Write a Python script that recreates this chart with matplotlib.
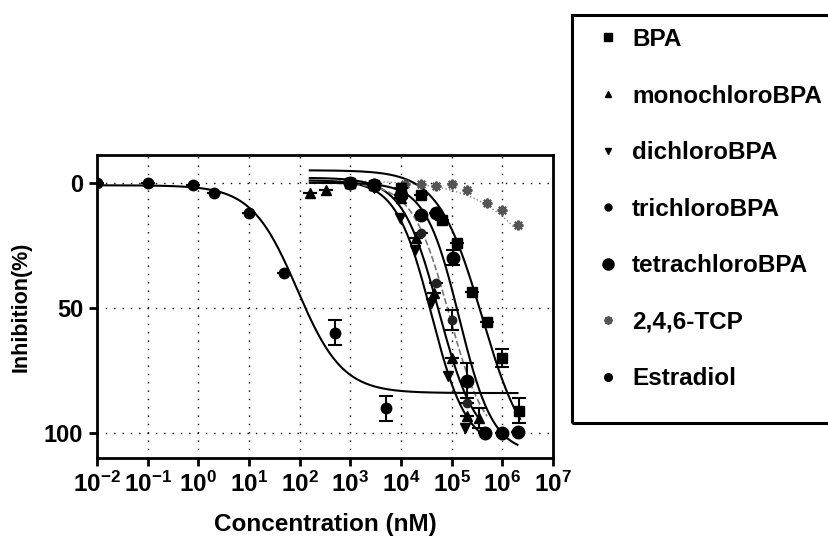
import numpy as np
import matplotlib
matplotlib.use("Agg")
import matplotlib.pyplot as plt
from matplotlib.lines import Line2D
from matplotlib.patches import Rectangle

plt.rcParams['font.family'] = ['Liberation Sans', 'DejaVu Sans']
plt.rcParams['font.weight'] = 'bold'
plt.rcParams['mathtext.fontset'] = 'custom'
plt.rcParams['mathtext.bf'] = 'Liberation Sans:bold'
plt.rcParams['mathtext.rm'] = 'Liberation Sans:bold'

# measured points: concentration (nM), inhibition (%), sem
bpa_x = [1e3, 3e3, 1e4, 2.5e4, 6.6e4, 1.26e5, 2.5e5, 5e5, 1e6, 2.1e6]
bpa_y = [0, 1, 2, 5, 15, 24, 43.6, 55.6, 70, 91]
bpa_e = [0, 0, 0, 0, 0, 0, 0, 0, 3.5, 5]

mono_x = [160, 330, 1e3, 3e3, 1e4, 2e4, 4.5e4, 1e5, 2e5, 3.5e5]
mono_y = [4, 3, 0, 1, 6, 22, 44, 70, 93, 94]
mono_e = [0, 0, 0, 0, 0, 0, 0, 0, 0, 4]

di_x = [1e3, 3e3, 9.5e3, 1.9e4, 3.9e4, 8.3e4, 1.8e5]
di_y = [0, 2, 14, 27, 48, 77, 98]

tri_x = [1e3, 3e3, 1e4, 2.5e4, 5e4, 1e5, 2e5]
tri_y = [0, 1, 5, 20, 40, 55, 88]
tri_e = [0, 0, 0, 0, 0, 4, 0]

tetra_x = [1e3, 3e3, 1e4, 2.5e4, 5e4, 1.05e5, 2e5, 4.5e5, 1e6, 2e6]
tetra_y = [0, 1, 5, 13, 12, 30, 79, 100, 100, 99.6]
tetra_e = [0, 0, 0, 0, 0, 3, 7, 0, 0, 0]

tcp_x = [1e3, 3e3, 1.2e4, 2.5e4, 5e4, 1e5, 2e5, 5e5, 1e6, 2e6]
tcp_y = [0, 0, 0.5, 0.5, 1.2, 0.5, 3, 8, 11, 17]

e2_x = [0.01, 0.1, 0.8, 2, 10, 50, 500, 5000]
e2_y = [0, 0, 0.8, 4, 12, 36, 60, 90]
e2_e = [0, 0, 0, 0, 0, 0, 5, 5]

# fitted curves: bottom, top, logIC50, hill, log10 range
fit_bpa = (-5, 112, 5.6, 1.0, 2.2, 6.35)
fit_mono = (-2, 105, 4.75, 1.2, 2.2, 5.6)
fit_di = (-1, 106, 4.6, 1.25, 2.2, 5.55)
fit_tri = (0, 105, 4.95, 1.2, 2.2, 5.7)
fit_tetra = (0, 108, 5.15, 1.3, 2.2, 6.3)
fit_tcp = (-1, 100, 7.3, 0.6, 2.2, 6.3)
fit_e2 = (1, 84, 1.95, 0.97, -2, 6.3)


def curve(ax, fit, **kw):
    bottom, top, logic50, hill, lo, hi = fit
    lx = np.linspace(lo, hi, 300)
    y = bottom + (top - bottom) / (1 + 10 ** ((logic50 - lx) * hill))
    ax.plot(10 ** lx, y, **kw)


fig = plt.figure(figsize=(8.29, 5.39), dpi=100)
ax = fig.add_axes([0.117, 0.150, 0.550, 0.562])

curve(ax, fit_tcp, color='#888888', lw=1.0, ls=':')
curve(ax, fit_bpa, color='black', lw=1.5)
curve(ax, fit_mono, color='black', lw=1.5)
curve(ax, fit_di, color='black', lw=1.5)
curve(ax, fit_tri, color='#777777', lw=1.2, ls='--')
curve(ax, fit_tetra, color='black', lw=1.5)
curve(ax, fit_e2, color='black', lw=1.5)

ebkw = dict(ls='none', ecolor='black', elinewidth=1.5, capsize=5, capthick=1.5)
ax.plot(tcp_x, tcp_y, ls='none', marker=(8, 2, 0), ms=7, mew=1.6, color='#555555')
ax.errorbar(bpa_x, bpa_y, yerr=bpa_e, fmt='s', ms=7, color='black', **ebkw)
ax.errorbar(mono_x, mono_y, yerr=mono_e, fmt='^', ms=7, color='black', **ebkw)
ax.plot(di_x, di_y, ls='none', marker='v', ms=7, color='black')
ax.errorbar(tri_x, tri_y, yerr=tri_e, fmt='o', ms=6, color='#222222', **ebkw)
ax.errorbar(tetra_x, tetra_y, yerr=tetra_e, fmt='o', ms=9, color='black', **ebkw)
ax.errorbar(e2_x, e2_y, yerr=e2_e, fmt='o', ms=7.5, color='black', **ebkw)

ax.set_xscale('log')
ax.set_xlim(1e-2, 1e7)
ax.set_ylim(110, -11)
decades = np.arange(-2, 8)
ax.set_xticks(10.0 ** decades)
ax.set_xticklabels([r'$\mathbf{10^{%d}}$' % d for d in decades])
ax.xaxis.set_minor_locator(matplotlib.ticker.NullLocator())
ax.set_yticks([0, 50, 100])
ax.tick_params(axis='both', direction='out', length=6, width=2, labelsize=17,
               pad=4)
ax.tick_params(axis='x', labelsize=17.5)
for lab in ax.get_yticklabels():
    lab.set_fontweight('bold')
for sp in ax.spines.values():
    sp.set_linewidth(2)

ax.grid(True, which='major', ls=(0, (1, 5)), lw=1.0, color='black')

ax.set_xlabel('Concentration (nM)', fontsize=17.5, fontweight='bold', labelpad=11)
ax.set_ylabel('Inhibition(%)', fontsize=15.5, fontweight='bold', labelpad=9)

names = ['BPA', 'monochloroBPA', 'dichloroBPA', 'trichloroBPA',
         'tetrachloroBPA', '2,4,6-TCP', 'Estradiol']
handles = [
    Line2D([], [], ls='none', marker='s', ms=6, color='black'),
    Line2D([], [], ls='none', marker='^', ms=5, color='black'),
    Line2D([], [], ls='none', marker='v', ms=5, color='black'),
    Line2D([], [], ls='none', marker='o', ms=5, color='black'),
    Line2D([], [], ls='none', marker='o', ms=8, color='black'),
    Line2D([], [], ls='none', marker=(8, 2, 0), ms=6, mew=1.4, color='#555555'),
    Line2D([], [], ls='none', marker='o', ms=5.5, color='black'),
]
# legend box, open on the right edge of the figure
fig.patches.append(Rectangle((572 / 829, 1 - 423 / 539), 270 / 829, 408 / 539,
                             transform=fig.transFigure, fill=False,
                             lw=2.2, ec='black'))
fig.legend(handles, names, loc='upper left',
           bbox_to_anchor=(598 / 829, 1 - 28 / 539),
           bbox_transform=fig.transFigure,
           prop={'size': 17.5, 'weight': 'bold'},
           labelspacing=1.38, handlelength=0.8, handletextpad=0.6,
           borderpad=0, borderaxespad=0, frameon=False)

fig.savefig('out.png', dpi=100)
